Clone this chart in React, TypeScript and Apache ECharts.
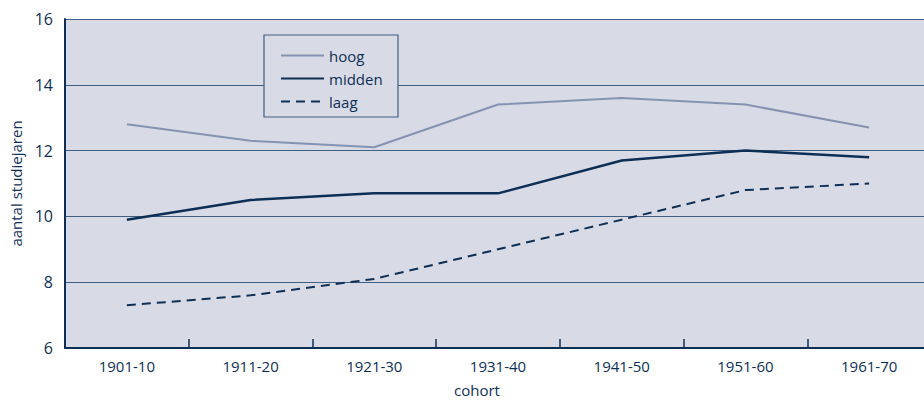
import React, { useEffect, useRef } from "react";
import * as echarts from "echarts";

const categories = ["1901-10", "1911-20", "1921-30", "1931-40", "1941-50", "1951-60", "1961-70"];
const hoog = [12.8, 12.3, 12.1, 13.4, 13.6, 13.4, 12.7];
const midden = [9.9, 10.5, 10.7, 10.7, 11.7, 12.0, 11.8];
const laag = [7.3, 7.6, 8.1, 9.0, 9.9, 10.8, 11.0];

const FONT = "'Open Sans', 'Noto Sans', sans-serif";
const DARK = "#0e2f55";
const BG = "#d8dbe6";
const GRIDC = "#3f5f82";

export default function App() {
  const ref = useRef<HTMLDivElement>(null);
  useEffect(() => {
    const chart = echarts.init(ref.current!, null, { renderer: "svg" });
    chart.setOption({
      animation: false,
      backgroundColor: "#ffffff",
      textStyle: { fontFamily: FONT },
      grid: {
        left: 65,
        top: 19,
        bottom: 52,
        right: -7,
        outerBoundsMode: "none",
        containLabel: false,
        show: true,
        backgroundColor: BG,
        borderWidth: 0,
      },
      graphic: [
        {
          type: "rect",
          z: 3,
          shape: { x: 264, y: 35, width: 134, height: 82 },
          style: { fill: BG, stroke: GRIDC, lineWidth: 1.2 },
        },
      ],
      legend: {
        orient: "vertical",
        left: 275,
        top: 43,
        z: 10,
        itemWidth: 43,
        itemHeight: 14,
        itemGap: 8,
        itemStyle: { opacity: 0, borderWidth: 0 },
        textStyle: { fontFamily: FONT, fontSize: 15, color: DARK, padding: [0, 0, 0, 0] },
        data: ["hoog", "midden", "laag"],
      },
      xAxis: {
        type: "category",
        data: categories,
        boundaryGap: true,
        name: "cohort",
        nameLocation: "middle",
        nameGap: 34,
        nameTextStyle: { fontFamily: FONT, fontSize: 15, color: DARK, padding: [0, 42, 0, 0], lineHeight: 16 },
        axisLine: { show: true, lineStyle: { color: DARK, width: 2 } },
        axisTick: { show: true, inside: true, length: 9, lineStyle: { color: DARK, width: 1.5 } },
        axisLabel: { fontFamily: FONT, fontSize: 15, color: DARK, margin: 10 },
        splitLine: { show: false },
      },
      yAxis: {
        type: "value",
        min: 6,
        max: 16,
        interval: 2,
        name: "aantal studiejaren",
        nameLocation: "middle",
        nameGap: 40,
        nameTextStyle: { fontFamily: FONT, fontSize: 15, color: DARK },
        axisLine: { show: true, lineStyle: { color: DARK, width: 2 } },
        axisTick: { show: false },
        axisLabel: { fontFamily: FONT, fontSize: 16, color: DARK, margin: 12 },
        splitLine: { show: true, lineStyle: { color: GRIDC, width: 1.2 } },
      },
      series: [
        {
          name: "hoog",
          type: "line",
          data: hoog,
          symbol: "none",
          z: 2,
          lineStyle: { color: "#8493b2", width: 2 },
          itemStyle: { color: "#8493b2" },
        },
        {
          name: "midden",
          type: "line",
          data: midden,
          symbol: "none",
          z: 2,
          lineStyle: { color: DARK, width: 2.5 },
          itemStyle: { color: DARK },
        },
        {
          name: "laag",
          type: "line",
          data: laag,
          symbol: "none",
          z: 2,
          lineStyle: { color: DARK, width: 2, type: [9, 6] },
          itemStyle: { color: DARK },
        },
      ],
    });
    return () => chart.dispose();
  }, []);
  return <div ref={ref} style={{ position: "fixed", left: 0, top: 0, width: 924, height: 400 }} />;
}
